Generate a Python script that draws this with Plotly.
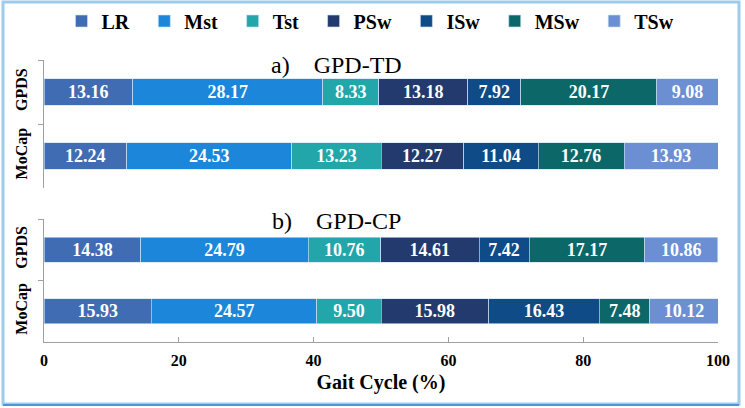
import plotly.graph_objects as go

# ---- data ----
phases = ["LR", "Mst", "Tst", "PSw", "ISw", "MSw", "TSw"]
systems = ["GPDS", "MoCap"]
td_gpds = [13.16, 28.17, 8.33, 13.18, 7.92, 20.17, 9.08]
td_mocap = [12.24, 24.53, 13.23, 12.27, 11.04, 12.76, 13.93]
cp_gpds = [14.38, 24.79, 10.76, 14.61, 7.42, 17.17, 10.86]
cp_mocap = [15.93, 24.57, 9.50, 15.98, 16.43, 7.48, 10.12]
x_ticks = [0, 20, 40, 60, 80, 100]
panel_titles = ["a)\u00a0\u00a0\u00a0\u00a0GPD-TD", "b)\u00a0\u00a0\u00a0\u00a0GPD-CP"]

colors = ["#3f6cb3", "#1c87da", "#22a6aa", "#223a6d", "#0f4b86", "#0c6868", "#6b8fd2"]

W, H = 745, 408
ML, MR, MT, MB = 44, 27, 60, 66
PW, PH = W - ML - MR, H - MT - MB


def px2x(px):
    return (px - ML) / PW


def px2y(py):
    return (H - MB - py) / PH


SERIF = "Liberation Serif, Times New Roman, serif"
PAD = "\u00a0\u00a0"  # extra spacing after legend entries

fig = go.Figure()

for i, ph in enumerate(phases):
    for (vals, xa, ya, show) in [
        ([td_gpds[i], td_mocap[i]], "x2", "y2", True),
        ([cp_gpds[i], cp_mocap[i]], "x", "y", False),
    ]:
        fig.add_trace(go.Bar(
            name=ph + PAD, x=vals, y=systems, orientation="h",
            xaxis=xa, yaxis=ya, legendgroup=ph, showlegend=show,
            marker=dict(color=colors[i], line=dict(color="rgba(200,225,245,0.8)", width=0.8)),
            texttemplate="%{x:.2f}", textposition="inside", insidetextanchor="middle",
            textangle=0,
            textfont=dict(family=SERIF, size=18, color="white", weight="bold"),
            hoverinfo="x+y+name",
        ))

axis_common = dict(range=[0, 100], showgrid=False, zeroline=False, fixedrange=True,
                   automargin=False)
yaxis_common = dict(
    autorange="reversed", showline=True, linecolor="#a0a0a0", linewidth=1,
    ticks="outside", ticklen=5, tickcolor="#a0a0a0", tickson="boundaries",
    tickangle=-90, showgrid=False, zeroline=False, automargin=False,
    ticklabelstandoff=10,
    tickfont=dict(family=SERIF, size=16, color="black", weight="bold"),
)

fig.update_layout(
    width=W, height=H,
    margin=dict(l=ML, r=MR, t=MT, b=MB, autoexpand=False),
    paper_bgcolor="white", plot_bgcolor="white",
    barmode="stack", bargap=0.59,
    uniformtext=dict(minsize=18, mode="show"),
    xaxis=dict(
        **axis_common, domain=[0, 1], anchor="y",
        tickvals=x_ticks, showline=True, linecolor="#a0a0a0", linewidth=1,
        ticks="inside", ticklen=5, tickcolor="#a0a0a0", ticklabelstandoff=4,
        tickfont=dict(family=SERIF, size=16, color="black", weight="bold"),
        title=dict(text="Gait Cycle (%)", standoff=6,
                   font=dict(family=SERIF, size=20, color="black", weight="bold")),
    ),
    xaxis2=dict(**axis_common, domain=[0, 1], anchor="y2", matches="x",
                showline=False, showticklabels=False, ticks=""),
    yaxis=dict(**yaxis_common, domain=[0, px2y(219)], anchor="x"),
    yaxis2=dict(**yaxis_common, domain=[px2y(188), 1.0], anchor="x2"),
    legend=dict(
        orientation="h", xref="container", yref="container",
        x=375 / W, xanchor="center", y=1 - 21 / H, yanchor="middle",
        font=dict(family=SERIF, size=20, color="black", weight="bold"),
        traceorder="normal", itemwidth=30, bgcolor="rgba(0,0,0,0)",
    ),
    annotations=[
        dict(text=panel_titles[0], xref="paper", yref="paper", x=px2x(336), y=px2y(65),
             xanchor="center", yanchor="middle", showarrow=False,
             font=dict(family=SERIF, size=24, color="black")),
        dict(text=panel_titles[1], xref="paper", yref="paper", x=px2x(336), y=px2y(221),
             xanchor="center", yanchor="middle", showarrow=False,
             font=dict(family=SERIF, size=24, color="black")),
    ],
    shapes=[
        dict(type="rect", xref="paper", yref="paper",
             x0=px2x(3), x1=px2x(739), y0=px2y(404), y1=px2y(2),
             line=dict(color="#9ccbec", width=3), fillcolor="rgba(0,0,0,0)", layer="below"),
        dict(type="line", xref="paper", yref="paper",
             x0=px2x(3), x1=px2x(739), y0=px2y(405), y1=px2y(405),
             line=dict(color="#4f95d6", width=2)),
    ],
)

fig.write_html("out.html", config={"displayModeBar": False},
               post_script="document.body.style.margin='0';")
